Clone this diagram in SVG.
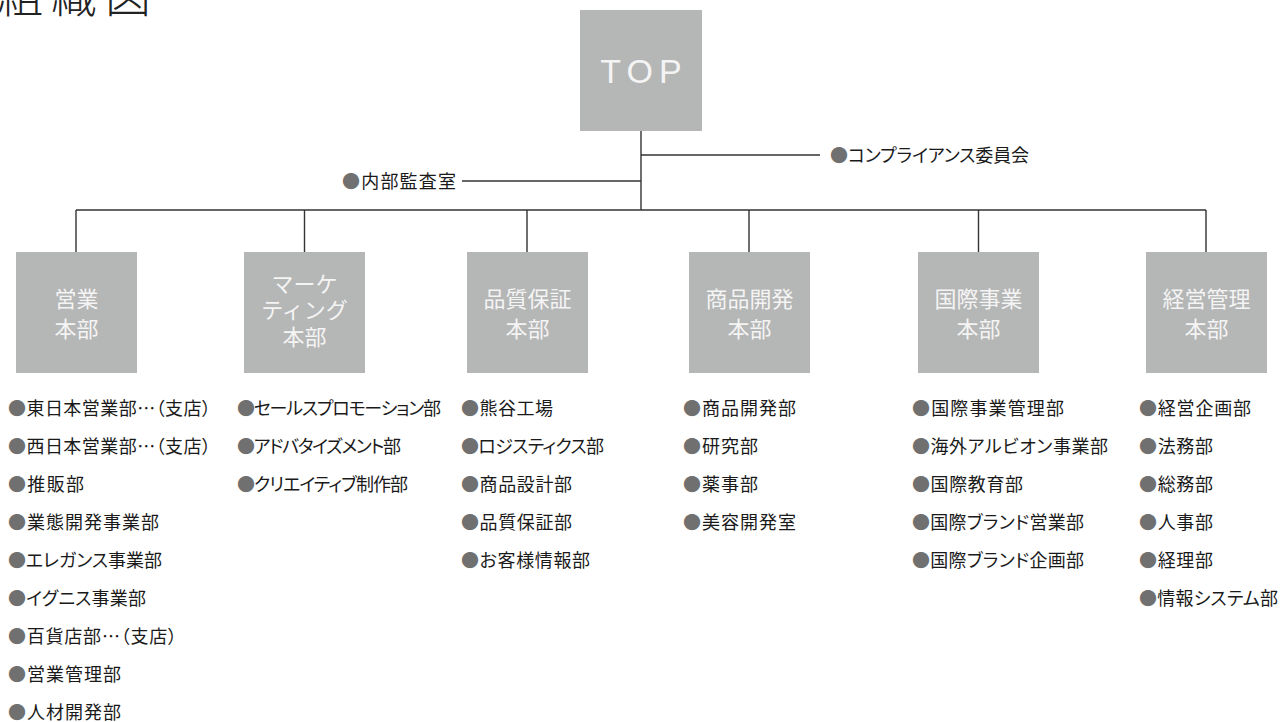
<svg xmlns="http://www.w3.org/2000/svg" width="1284" height="722" viewBox="0 0 1284 722">
<style>
.box{fill:#b5b6b6}
.bt{fill:#f4f4f4;font-family:"Noto Sans CJK JP",sans-serif;font-size:22px;text-anchor:middle}
.top{fill:#f4f4f4;font-family:"Liberation Sans","Noto Sans",sans-serif;font-size:34px;letter-spacing:6px;text-anchor:middle}
.li{fill:#1a1a1a;font-family:"Noto Sans CJK JP",sans-serif;font-size:18px;font-feature-settings:"palt"}
.b{fill:#707070}
.ln{stroke:#333;stroke-width:1.4;fill:none}
.title{fill:#222;font-family:"Noto Sans CJK JP",sans-serif;font-size:46px;font-weight:300;letter-spacing:8px}
</style>
<rect width="1284" height="722" fill="#fff"/>
<text class="title" x="-3" y="12">組織図</text>
<g id="connectors" class="ln">
<path d="M641 131V210"/>
<path d="M641 155H820"/>
<path d="M462 181H641"/>
<path d="M76 210H1206"/>
<path d="M76 210V252M304.5 210V252M527 210V252M749 210V252M978.5 210V252M1206 210V252"/>
</g>
<g id="top"><rect class="box" x="580" y="10" width="122" height="121"/><text class="top" x="644" y="83">TOP</text></g>
<g id="compliance"><text class="li" x="830" y="162" textLength="199" lengthAdjust="spacing"><tspan class="b">●</tspan>コンプライアンス委員会</text></g>
<g id="audit"><text class="li" x="342" y="188" textLength="114" lengthAdjust="spacing"><tspan class="b">●</tspan>内部監査室</text></g>
<g id="sales">
<rect class="box" x="16" y="252" width="121" height="121"/>
<text class="bt" x="76.5" y="307">営業</text><text class="bt" x="76.5" y="337">本部</text>
<text class="li" x="8" y="415" textLength="203" lengthAdjust="spacing"><tspan class="b">●</tspan>東日本営業部…（支店）</text>
<text class="li" x="8" y="453" textLength="203" lengthAdjust="spacing"><tspan class="b">●</tspan>西日本営業部…（支店）</text>
<text class="li" x="8" y="491" textLength="76" lengthAdjust="spacing"><tspan class="b">●</tspan>推販部</text>
<text class="li" x="8" y="529" textLength="151" lengthAdjust="spacing"><tspan class="b">●</tspan>業態開発事業部</text>
<text class="li" x="8" y="567" textLength="154" lengthAdjust="spacing"><tspan class="b">●</tspan>エレガンス事業部</text>
<text class="li" x="8" y="605" textLength="138" lengthAdjust="spacing"><tspan class="b">●</tspan>イグニス事業部</text>
<text class="li" x="8" y="643" textLength="169" lengthAdjust="spacing"><tspan class="b">●</tspan>百貨店部…（支店）</text>
<text class="li" x="8" y="681" textLength="113" lengthAdjust="spacing"><tspan class="b">●</tspan>営業管理部</text>
<text class="li" x="8" y="719" textLength="113" lengthAdjust="spacing"><tspan class="b">●</tspan>人材開発部</text>
</g>
<g id="marketing">
<rect class="box" x="244" y="252" width="121" height="121"/>
<text class="bt" x="304.5" y="292">マーケ</text><text class="bt" x="304.5" y="318">ティング</text><text class="bt" x="304.5" y="345">本部</text>
<text class="li" x="237" y="415" textLength="204" lengthAdjust="spacing"><tspan class="b">●</tspan>セールスプロモーション部</text>
<text class="li" x="237" y="453" textLength="164" lengthAdjust="spacing"><tspan class="b">●</tspan>アドバタイズメント部</text>
<text class="li" x="237" y="491" textLength="171" lengthAdjust="spacing"><tspan class="b">●</tspan>クリエイティブ制作部</text>
</g>
<g id="quality">
<rect class="box" x="467" y="252" width="121" height="121"/>
<text class="bt" x="527.5" y="307">品質保証</text><text class="bt" x="527.5" y="337">本部</text>
<text class="li" x="461" y="415" textLength="92" lengthAdjust="spacing"><tspan class="b">●</tspan>熊谷工場</text>
<text class="li" x="461" y="453" textLength="143" lengthAdjust="spacing"><tspan class="b">●</tspan>ロジスティクス部</text>
<text class="li" x="461" y="491" textLength="111" lengthAdjust="spacing"><tspan class="b">●</tspan>商品設計部</text>
<text class="li" x="461" y="529" textLength="111" lengthAdjust="spacing"><tspan class="b">●</tspan>品質保証部</text>
<text class="li" x="461" y="567" textLength="129" lengthAdjust="spacing"><tspan class="b">●</tspan>お客様情報部</text>
</g>
<g id="product">
<rect class="box" x="689" y="252" width="121" height="121"/>
<text class="bt" x="749.5" y="307">商品開発</text><text class="bt" x="749.5" y="337">本部</text>
<text class="li" x="683" y="415" textLength="113" lengthAdjust="spacing"><tspan class="b">●</tspan>商品開発部</text>
<text class="li" x="683" y="453" textLength="75" lengthAdjust="spacing"><tspan class="b">●</tspan>研究部</text>
<text class="li" x="683" y="491" textLength="75" lengthAdjust="spacing"><tspan class="b">●</tspan>薬事部</text>
<text class="li" x="683" y="529" textLength="113" lengthAdjust="spacing"><tspan class="b">●</tspan>美容開発室</text>
</g>
<g id="international">
<rect class="box" x="918" y="252" width="121" height="121"/>
<text class="bt" x="978.5" y="307">国際事業</text><text class="bt" x="978.5" y="337">本部</text>
<text class="li" x="912" y="415" textLength="152" lengthAdjust="spacing"><tspan class="b">●</tspan>国際事業管理部</text>
<text class="li" x="912" y="453" textLength="196" lengthAdjust="spacing"><tspan class="b">●</tspan>海外アルビオン事業部</text>
<text class="li" x="912" y="491" textLength="111" lengthAdjust="spacing"><tspan class="b">●</tspan>国際教育部</text>
<text class="li" x="912" y="529" textLength="172" lengthAdjust="spacing"><tspan class="b">●</tspan>国際ブランド営業部</text>
<text class="li" x="912" y="567" textLength="172" lengthAdjust="spacing"><tspan class="b">●</tspan>国際ブランド企画部</text>
</g>
<g id="management">
<rect class="box" x="1146" y="252" width="121" height="121"/>
<text class="bt" x="1206.5" y="307">経営管理</text><text class="bt" x="1206.5" y="337">本部</text>
<text class="li" x="1139" y="415" textLength="112" lengthAdjust="spacing"><tspan class="b">●</tspan>経営企画部</text>
<text class="li" x="1139" y="453" textLength="74" lengthAdjust="spacing"><tspan class="b">●</tspan>法務部</text>
<text class="li" x="1139" y="491" textLength="74" lengthAdjust="spacing"><tspan class="b">●</tspan>総務部</text>
<text class="li" x="1139" y="529" textLength="74" lengthAdjust="spacing"><tspan class="b">●</tspan>人事部</text>
<text class="li" x="1139" y="567" textLength="74" lengthAdjust="spacing"><tspan class="b">●</tspan>経理部</text>
<text class="li" x="1139" y="605" textLength="139" lengthAdjust="spacing"><tspan class="b">●</tspan>情報システム部</text>
</g>
</svg>
